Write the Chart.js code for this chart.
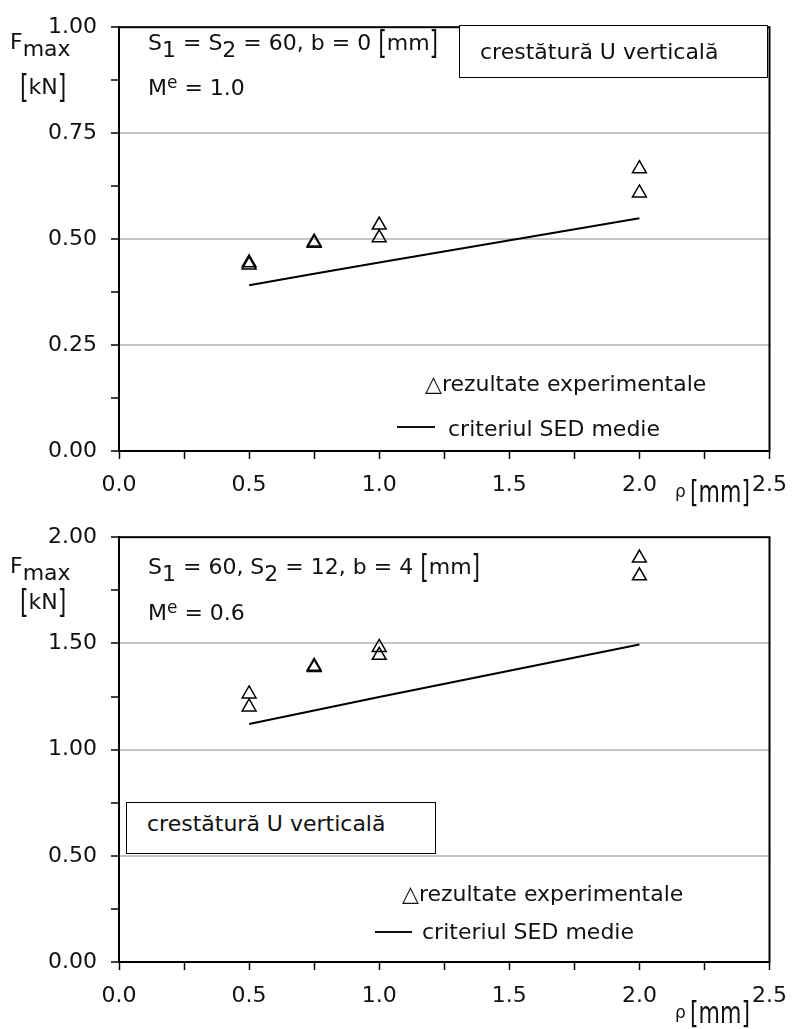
<!DOCTYPE html>
<html>
<head>
<meta charset="utf-8">
<script src="https://cdn.jsdelivr.net/npm/chart.js@4.4.1/dist/chart.umd.min.js"></script>
<style>
    body { margin: 0; background: #fff; }
    #page { position: relative; width: 800px; height: 1029px; overflow: hidden;
            font-family: "DejaVu Sans", Verdana, sans-serif; color: #111; }
    canvas { position: absolute; left: 0; }
    .t { position: absolute; font-size: 22px; line-height: 22px; white-space: nowrap; }
    .sub { position: relative; top: 7px; }
    .sup { position: relative; top: -7px; font-size: 17px; }
    .br { display: inline-block; transform: scaleY(1.45); }
    .rho { font-size: 17px; }
    .note { position: absolute; box-sizing: border-box; border: 1.5px solid #000; background: #fff; }
    .line { display: inline-block; position: absolute; height: 0; border-top: 2px solid #111; }
</style>
</head>
<body>
<div id="page">
    <canvas id="topChart" width="800" height="510" style="top:0"></canvas>
    <canvas id="bottomChart" width="800" height="519" style="top:510px"></canvas>

    <!-- top chart texts -->
    <div class="t" style="left:10px; top:31px">F<span class="sub">max</span></div>
    <div class="t" style="left:20px; top:76px"><span class="br">[</span>kN<span class="br">]</span></div>
    <div class="t" style="left:148px; top:32px">S<span class="sub">1</span> = S<span class="sub">2</span> = 60, b = 0 <span class="br">[</span>mm<span class="br">]</span></div>
    <div class="t" style="left:148px; top:77px">M<span class="sup">e</span> = 1.0</div>
    <div class="note" style="left:459px; top:25px; width:309px; height:53px"></div>
    <div class="t" style="left:480px; top:41px">crestătură U verticală</div>
    <div class="t" style="left:425px; top:373px">△rezultate experimentale</div>
    <div class="line" style="left:397px; top:426px; width:38px"></div>
    <div class="t" style="left:448px; top:418px">criteriul SED medie</div>
    <div class="t rho" style="left:675px; top:480px; line-height:22px">ρ</div>
    <div class="t" style="left:690px; top:481px"><span class="br" style="transform:scaleY(1.4)">[mm]</span></div>

    <!-- bottom chart texts -->
    <div class="t" style="left:10px; top:555px">F<span class="sub">max</span></div>
    <div class="t" style="left:20px; top:591px"><span class="br">[</span>kN<span class="br">]</span></div>
    <div class="t" style="left:148px; top:556px">S<span class="sub">1</span> = 60, S<span class="sub">2</span> = 12, b = 4 <span class="br">[</span>mm<span class="br">]</span></div>
    <div class="t" style="left:148px; top:602px">M<span class="sup">e</span> = 0.6</div>
    <div class="note" style="left:126px; top:802px; width:310px; height:52px"></div>
    <div class="t" style="left:147px; top:813px">crestătură U verticală</div>
    <div class="t" style="left:402px; top:883px">△rezultate experimentale</div>
    <div class="line" style="left:375px; top:931px; width:37px"></div>
    <div class="t" style="left:422px; top:921px">criteriul SED medie</div>
    <div class="t rho" style="left:675px; top:1001px; line-height:22px">ρ</div>
    <div class="t" style="left:690px; top:1002px"><span class="br" style="transform:scaleY(1.4)">[mm]</span></div>
</div>

<script>
// notch radius rho [mm]
var rhoExp = [0.5, 0.5, 0.75, 0.75, 1.0, 1.0, 2.0, 2.0];
var fExpTop = [0.444, 0.439, 0.493, 0.490, 0.533, 0.503, 0.666, 0.609];
var fExpBottom = [1.262, 1.201, 1.392, 1.386, 1.481, 1.444, 1.902, 1.818];

var rhoSed = [0.5, 0.75, 1.0, 2.0];
var fSedTop = [0.391, 0.418, 0.445, 0.549];
var fSedBottom = [1.121, 1.184, 1.248, 1.495];

var xMax = 2.5, xLabelStep = 0.5;
var yMaxTop = 1.0, yLabelStepTop = 0.25;
var yMaxBottom = 2.0, yLabelStepBottom = 0.5;

var fontFamily = '"DejaVu Sans", Verdana, sans-serif';

function pts(xs, ys) {
    var out = [];
    for (var i = 0; i < xs.length; i++) {
        out.push({x: xs[i], y: ys[i]});
    }
    return out;
}

function isMajor(v, step) {
    return Math.abs(v / step - Math.round(v / step)) < 1e-6;
}

var frame = {
    id: 'frame',
    afterDatasetsDraw: function (chart) {
        var a = chart.chartArea, c = chart.ctx;
        c.save();
        c.strokeStyle = '#000';
        c.lineWidth = 2;
        c.strokeRect(a.left, a.top, a.right - a.left, a.bottom - a.top);
        c.restore();
    }
};

function drawChart(id, fExp, fSed, yMax, yStep, padTop, xAxisHeight) {
    var ctx = document.getElementById(id).getContext('2d');
    new Chart(ctx, {
        type: 'scatter',
        data: {
            datasets: [{
                    label: 'rezultate experimentale',
                    data: pts(rhoExp, fExp),
                    pointStyle: 'triangle',
                    pointRadius: 8,
                    borderColor: '#000',
                    backgroundColor: 'rgba(0,0,0,0)',
                    borderWidth: 1.5
                },
                {
                    label: 'criteriul SED medie',
                    data: pts(rhoSed, fSed),
                    showLine: true,
                    pointRadius: 0,
                    borderColor: '#000',
                    borderWidth: 2,
                    fill: false
                }
            ]
        },
        options: {
            responsive: false,
            animation: false,
            events: [],
            layout: {padding: {top: padTop, right: 22, left: 0, bottom: 0}},
            plugins: {legend: {display: false}, tooltip: {enabled: false}},
            scales: {
                x: {
                    type: 'linear',
                    min: 0,
                    max: xMax,
                    afterFit: function (s) { s.height = xAxisHeight; },
                    ticks: {
                        stepSize: xLabelStep / 2,
                        autoSkip: false,
                        maxRotation: 0,
                        padding: 13,
                        color: '#111',
                        font: {family: fontFamily, size: 22},
                        callback: function (v) { return isMajor(v, xLabelStep) ? v.toFixed(1) : ''; }
                    },
                    grid: {drawOnChartArea: false, tickLength: 8, tickColor: '#000', tickWidth: 1.5},
                    border: {color: '#000', width: 2}
                },
                y: {
                    min: 0,
                    max: yMax,
                    afterFit: function (s) { s.width = 119; },
                    ticks: {
                        stepSize: yStep / 2,
                        autoSkip: false,
                        padding: 14,
                        color: '#111',
                        font: {family: fontFamily, size: 22},
                        callback: function (v) { return isMajor(v, yStep) ? v.toFixed(2) : ''; }
                    },
                    grid: {
                        color: function (c) {
                            if (!c.tick) return 'rgba(0,0,0,0)';
                            var v = c.tick.value;
                            return (isMajor(v, yStep) && v > 0 && v < yMax) ? '#c4c4c4' : 'rgba(0,0,0,0)';
                        },
                        lineWidth: 2,
                        tickLength: 8,
                        tickColor: '#000',
                        tickWidth: 1.5
                    },
                    border: {color: '#000', width: 2}
                }
            }
        },
        plugins: [frame]
    });
}

drawChart('topChart', fExpTop, fSedTop, yMaxTop, yLabelStepTop, 16, 59);
drawChart('bottomChart', fExpBottom, fSedBottom, yMaxBottom, yLabelStepBottom, 24, 67);
</script>
</body>
</html>
